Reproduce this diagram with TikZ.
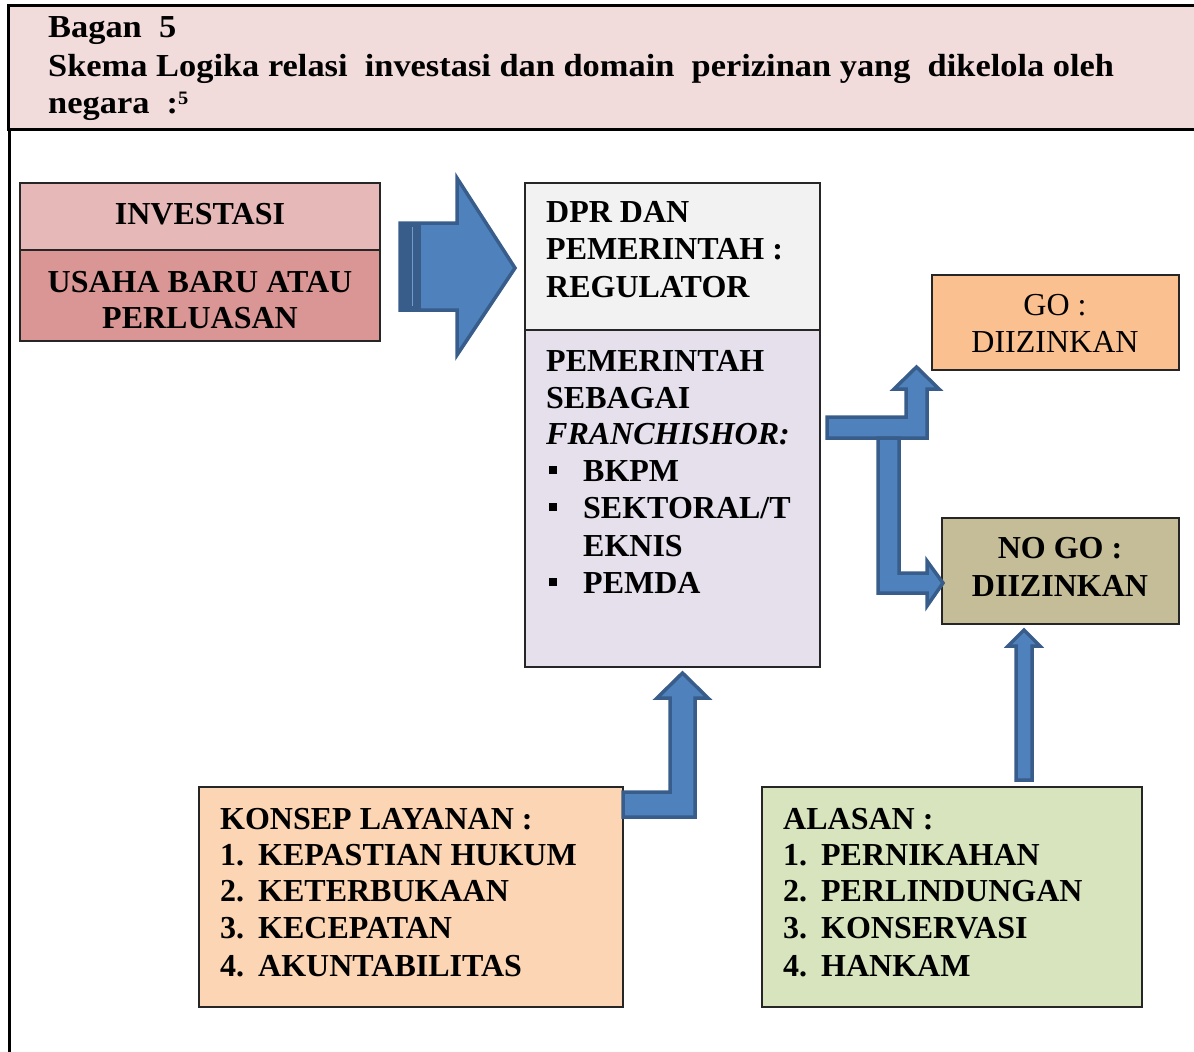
\documentclass[tikz,border=0pt]{standalone}
\usepackage{fontspec}
\setmainfont{Liberation Serif}
\definecolor{hdrfill}{HTML}{F2DCDB}
\definecolor{invA}{HTML}{E6B9B8}
\definecolor{invB}{HTML}{D99694}
\definecolor{dprA}{HTML}{F2F2F2}
\definecolor{dprB}{HTML}{E5E0EC}
\definecolor{gofill}{HTML}{FAC090}
\definecolor{nogofill}{HTML}{C4BD97}
\definecolor{konfill}{HTML}{FCD5B5}
\definecolor{alafill}{HTML}{D7E4BD}
\definecolor{arrfill}{HTML}{4F81BD}
\definecolor{arrline}{HTML}{385D8A}
\newcommand{\mybul}{\makebox[37pt][l]{\hspace{3pt}\rule[7pt]{8pt}{8pt}}}
\newcommand{\mynum}[1]{\makebox[38pt][l]{#1}}
\newcommand{\hdr}[1]{\scalebox{1.075}[1]{#1}}
\tikzset{
  box/.style={draw=black!85, line width=1.2pt, rectangle, inner sep=0pt},
  txt/.style={anchor=base west, inner sep=0pt, font=\fontsize{32}{37.5}\selectfont\bfseries},
  ctxt/.style={anchor=base, inner sep=0pt, font=\fontsize{32}{37.5}\selectfont\bfseries},
  blockarrow/.style={fill=arrfill, draw=arrline, line width=3.5pt, line join=miter},
}
\begin{document}
\begin{tikzpicture}[x=1pt,y=-1pt]
\useasboundingbox (0,0) rectangle (1194,1052);
% header
\path[fill=hdrfill, draw=black, line width=3pt] (8,5) rectangle (1210,129);
\draw[line width=3pt] (9,129) -- (9,1060);
\node[txt] (h1) at (48,37) {\hdr{Bagan\ \ 5}};
\node[txt] (h2) at (48,76) {\hdr{Skema Logika relasi\ \ investasi dan domain\ \ perizinan yang\ \ dikelola oleh}};
\node[txt] (h3) at (48,113) {\hdr{negara\ \ :\raisebox{9pt}{\fontsize{19}{20}\selectfont 5}}};

% investasi
\node[box, fill=invA, minimum width=360pt, minimum height=67pt] (inv1) at (200,216.5) {};
\node[box, fill=invB, minimum width=360pt, minimum height=91pt] (inv2) at (200,295.5) {};
\node[ctxt] (t-inv1) at (200,224) {INVESTASI};
\node[ctxt] (t-inv2) at (200,292) {USAHA BARU ATAU};
\node[ctxt] (t-inv3) at (200,328) {PERLUASAN};

% big arrow
\path[blockarrow] (400,223) -- (457,223) -- (457,178) -- (515,268) -- (457,355) -- (457,310) -- (400,310) -- cycle;
\fill[arrline] (400,223) rectangle (421,310);
\draw[arrfill!80, line width=0.8pt] (412,227) -- (412,306);

% DPR box
\node[box, fill=dprA, minimum width=295pt, minimum height=147pt] (dpr1) at (672.5,256.5) {};
\node[box, fill=dprB, minimum width=295pt, minimum height=337pt] (dpr2) at (672.5,498.5) {};
\node[txt] (d1) at (546,222) {DPR DAN};
\node[txt] (d2) at (546,259) {PEMERINTAH :};
\node[txt] (d3) at (546,297) {REGULATOR};
\node[txt] (d4) at (546,371) {PEMERINTAH};
\node[txt] (d5) at (546,408) {SEBAGAI};
\node[txt] (d6) at (546,444) {\itshape FRANCHISHOR:};
\node[txt] (d7) at (546,481) {\mybul BKPM};
\node[txt] (d8) at (546,518) {\mybul SEKTORAL/T};
\node[txt] (d9) at (583,556) {EKNIS};
\node[txt] (d10) at (546,593) {\mybul PEMDA};

% GO box
\node[box, fill=gofill, minimum width=247pt, minimum height=95pt] (go) at (1055.5,322.5) {};
\node[ctxt, font=\fontsize{32}{37.5}\selectfont] (g1) at (1055,315) {GO :};
\node[ctxt, font=\fontsize{32}{37.5}\selectfont] (g2) at (1055,352) {DIIZINKAN};

% NO GO box
\node[box, fill=nogofill, minimum width=237pt, minimum height=106pt] (nogo) at (1060.5,571) {};
\node[ctxt] (n1) at (1060,558) {NO GO :};
\node[ctxt] (n2) at (1060,596) {DIIZINKAN};

% arrows from DPR
\path[blockarrow] (827,417) -- (906,417) -- (906,389) -- (894,389) -- (916.5,367) -- (939,389) -- (927,389) -- (927,438) -- (827,438) -- cycle;
\path[blockarrow] (878,438) -- (899,438) -- (899,573) -- (927,573) -- (927,561) -- (943,583) -- (927,606) -- (927,593) -- (878,593) -- cycle;

% KONSEP box
\node[box, fill=konfill, minimum width=424pt, minimum height=220pt] (kon) at (411,897) {};
\node[txt] (k0) at (220,829) {KONSEP LAYANAN :};
\node[txt] (k1) at (220,865) {\mynum{1.}KEPASTIAN HUKUM};
\node[txt] (k2) at (220,901) {\mynum{2.}KETERBUKAAN};
\node[txt] (k3) at (220,938) {\mynum{3.}KECEPATAN};
\node[txt] (k4) at (220,976) {\mynum{4.}AKUNTABILITAS};
\path[blockarrow] (623,792) -- (670,792) -- (670,698) -- (657,698) -- (682.5,673) -- (708,698) -- (695,698) -- (695,817) -- (623,817) -- cycle;

% ALASAN box
\node[box, fill=alafill, minimum width=380pt, minimum height=220pt] (ala) at (952,897) {};
\node[txt] (a0) at (783,829) {ALASAN :};
\node[txt] (a1) at (783,865) {\mynum{1.}PERNIKAHAN};
\node[txt] (a2) at (783,901) {\mynum{2.}PERLINDUNGAN};
\node[txt] (a3) at (783,938) {\mynum{3.}KONSERVASI};
\node[txt] (a4) at (783,976) {\mynum{4.}HANKAM};
\path[blockarrow] (1016,780) -- (1016,646) -- (1008,646) -- (1024,630) -- (1040,646) -- (1032,646) -- (1032,780) -- cycle;
\end{tikzpicture}
\end{document}
